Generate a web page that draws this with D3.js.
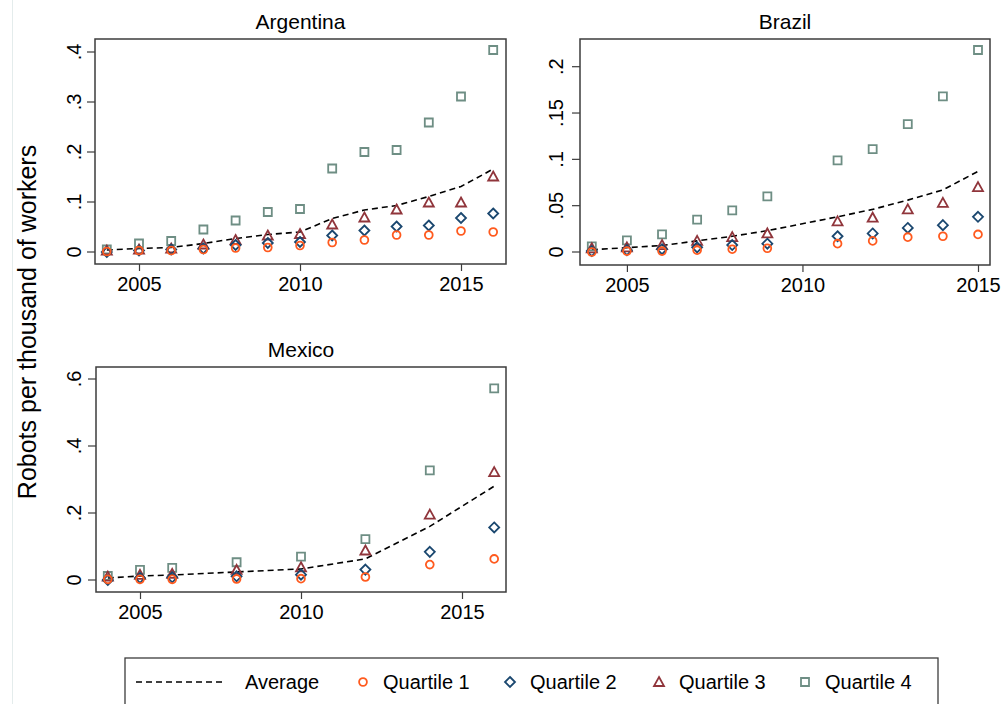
<!DOCTYPE html>
<html>
<head>
<meta charset="utf-8">
<script src="https://cdn.jsdelivr.net/npm/d3@7"></script>
<style>
  body { margin: 0; background: #fff; }
  text { font-family: "Liberation Sans", Arial, sans-serif; fill: #000; }
</style>
</head>
<body>
<script>
// Data
const years_ar = [2004, 2005, 2006, 2007, 2008, 2009, 2010, 2011, 2012, 2013, 2014, 2015, 2016];
const avg_ar = [0.004, 0.007, 0.009, 0.017, 0.027, 0.035, 0.040, 0.067, 0.084, 0.093, 0.111, 0.131, 0.166];
const q1_ar = [0.001, 0.003, 0.003, 0.005, 0.008, 0.009, 0.013, 0.019, 0.024, 0.034, 0.034, 0.042, 0.040];
const q2_ar = [0.000, 0.003, 0.005, 0.007, 0.014, 0.018, 0.020, 0.033, 0.043, 0.051, 0.053, 0.068, 0.077];
const q3_ar = [0.003, 0.005, 0.007, 0.015, 0.024, 0.033, 0.036, 0.055, 0.069, 0.085, 0.099, 0.099, 0.151];
const q4_ar = [0.005, 0.017, 0.022, 0.045, 0.063, 0.080, 0.086, 0.167, 0.200, 0.204, 0.259, 0.311, 0.404];

const years_br = [2004, 2005, 2006, 2007, 2008, 2009, 2011, 2012, 2013, 2014, 2015];
const avg_br = [0.0025, 0.0047, 0.007, 0.012, 0.017, 0.023, 0.038, 0.046, 0.056, 0.067, 0.087];
const q1_br = [0.000, 0.001, 0.001, 0.002, 0.003, 0.004, 0.009, 0.012, 0.016, 0.017, 0.019];
const q2_br = [0.001, 0.002, 0.003, 0.005, 0.0075, 0.009, 0.017, 0.020, 0.026, 0.029, 0.038];
const q3_br = [0.004, 0.005, 0.0075, 0.012, 0.016, 0.020, 0.033, 0.037, 0.046, 0.053, 0.070];
const q4_br = [0.006, 0.0126, 0.019, 0.035, 0.045, 0.060, 0.099, 0.111, 0.138, 0.168, 0.218];

const years_mx = [2004, 2005, 2006, 2008, 2010, 2012, 2014, 2016];
const avg_mx = [0.006, 0.012, 0.015, 0.024, 0.033, 0.063, 0.160, 0.280];
const q1_mx = [0.002, 0.002, 0.002, 0.003, 0.004, 0.009, 0.046, 0.063];
const q2_mx = [0.000, 0.006, 0.008, 0.011, 0.016, 0.031, 0.084, 0.157];
const q3_mx = [0.010, 0.015, 0.018, 0.030, 0.038, 0.088, 0.195, 0.322];
const q4_mx = [0.012, 0.030, 0.036, 0.053, 0.070, 0.122, 0.327, 0.572];

const countries = ["Argentina", "Brazil", "Mexico"];
const x_ticks = [2005, 2010, 2015];
const y_ticks_ar = [0, 0.1, 0.2, 0.3, 0.4];
const y_ticks_br = [0, 0.05, 0.1, 0.15, 0.2];
const y_ticks_mx = [0, 0.2, 0.4, 0.6];
const series_names = ["Average", "Quartile 1", "Quartile 2", "Quartile 3", "Quartile 4"];

// Colours per series
const col_q1 = "#ff5a1e";
const col_q2 = "#1a476f";
const col_q3 = "#90353b";
const col_q4 = "#6e8e84";

const width = 1002;
const height = 704;

let svg = d3.select("body").append("svg")
    .attr("width", width)
    .attr("height", height);

// faint guide line at far left
svg.append("line")
    .attr("x1", 12.5).attr("x2", 12.5)
    .attr("y1", 0).attr("y2", height)
    .attr("stroke", "#e4ecec");

// Panel layout (frame box, x range, y range)
const panels = [
    { name: countries[0], years: years_ar, avg: avg_ar, q: [q1_ar, q2_ar, q3_ar, q4_ar],
      yTicks: y_ticks_ar, yTop: 0.4, L: 95, R: 506, T: 39, B: 264,
      xr: [106.8, 493.2], yr: [252, 52], xDom: [2004, 2016], labX: 81 },
    { name: countries[1], years: years_br, avg: avg_br, q: [q1_br, q2_br, q3_br, q4_br],
      yTicks: y_ticks_br, yTop: 0.2, L: 580, R: 990, T: 39, B: 265,
      xr: [591.8, 978], yr: [252, 66.7], xDom: [2004, 2015], labX: 563 },
    { name: countries[2], years: years_mx, avg: avg_mx, q: [q1_mx, q2_mx, q3_mx, q4_mx],
      yTicks: y_ticks_mx, yTop: 0.6, L: 96, R: 506, T: 367, B: 592,
      xr: [107.8, 494.2], yr: [580, 379], xDom: [2004, 2016], labX: 81 }
];

const frameColor = "#3c3c3c";
const colors = [col_q1, col_q2, col_q3, col_q4];
const dash = "6,4";

// hollow marker shapes: circle, diamond, triangle, square
function markerPath(i) {
    if (i === 0) return d3.symbol().type(d3.symbolCircle).size(48)();
    if (i === 1) return "M0,-5L5,0L0,5L-5,0Z";
    if (i === 2) return "M0,-5L5,4L-5,4Z";
    return "M-4,-4H4V4H-4Z";
}

function marker(g, i, x, y) {
    g.append("path")
        .attr("d", markerPath(i))
        .attr("transform", `translate(${x},${y})`)
        .attr("fill", "none")
        .attr("stroke", colors[i])
        .attr("stroke-width", 1.8);
}

panels.forEach((p) => {
    let x = d3.scaleLinear().domain(p.xDom).range(p.xr);
    let y = d3.scaleLinear().domain([0, p.yTop]).range(p.yr);
    let g = svg.append("g");

    // title
    g.append("text")
        .attr("x", (p.L + p.R) / 2)
        .attr("y", p.T - 10)
        .attr("text-anchor", "middle")
        .attr("font-size", 21)
        .text(p.name);

    // y axis (ticks and rotated labels)
    p.yTicks.forEach((t) => {
        g.append("line")
            .attr("x1", p.L - 8).attr("x2", p.L)
            .attr("y1", y(t)).attr("y2", y(t))
            .attr("stroke", frameColor).attr("stroke-width", 1.2);
        let lbl = d3.format("")(t).replace(/^0\./, ".");
        g.append("text")
            .attr("transform", `translate(${p.labX},${y(t)}) rotate(-90)`)
            .attr("text-anchor", "middle")
            .attr("font-size", 20)
            .text(lbl);
    });

    // x axis
    let xAxis = d3.axisBottom(x).tickValues(x_ticks).tickSize(7).tickPadding(0).tickFormat(d3.format("d"));
    let ax = g.append("g")
        .attr("transform", `translate(0,${p.B})`)
        .call(xAxis);
    ax.select(".domain").remove();
    ax.selectAll(".tick line").attr("stroke", frameColor).attr("stroke-width", 1.2);
    ax.selectAll(".tick text")
        .attr("font-size", 20)
        .attr("y", 27)
        .attr("dy", null)
        .attr("fill", "#000")
        .attr("font-family", "Liberation Sans, Arial, sans-serif");

    // frame
    g.append("rect")
        .attr("x", p.L).attr("y", p.T)
        .attr("width", p.R - p.L).attr("height", p.B - p.T)
        .attr("fill", "none")
        .attr("stroke", frameColor)
        .attr("stroke-width", 1.5);

    // average dashed line
    let line = d3.line().x((d, i) => x(p.years[i])).y((d) => y(d));
    g.append("path")
        .datum(p.avg)
        .attr("d", line)
        .attr("fill", "none")
        .attr("stroke", "#000")
        .attr("stroke-width", 1.6)
        .attr("stroke-dasharray", dash);

    // quartile markers, Q4 first so lower ones sit on top
    [3, 2, 1, 0].forEach((qi) => {
        p.q[qi].forEach((v, i) => marker(g, qi, x(p.years[i]), y(v)));
    });
});

// y axis title
svg.append("text")
    .attr("transform", `translate(36,322) rotate(-90)`)
    .attr("text-anchor", "middle")
    .attr("font-size", 25)
    .text("Robots per thousand of workers");

// Legend
let leg = svg.append("g");
leg.append("rect")
    .attr("x", 125).attr("y", 658)
    .attr("width", 813).attr("height", 60)
    .attr("fill", "#fff")
    .attr("stroke", frameColor)
    .attr("stroke-width", 1.3);

const legY = 682;
leg.append("line")
    .attr("x1", 136).attr("x2", 226)
    .attr("y1", legY).attr("y2", legY)
    .attr("stroke", "#000").attr("stroke-width", 1.6)
    .attr("stroke-dasharray", dash);
leg.append("text")
    .attr("x", 245).attr("y", legY + 7)
    .attr("font-size", 20)
    .text(series_names[0]);

const legMarkX = [363, 510, 659, 805];
legMarkX.forEach((mx, i) => {
    marker(leg, i, mx, legY);
    leg.append("text")
        .attr("x", mx + 20).attr("y", legY + 7)
        .attr("font-size", 20)
        .text(series_names[i + 1]);
});
</script>
</body>
</html>
